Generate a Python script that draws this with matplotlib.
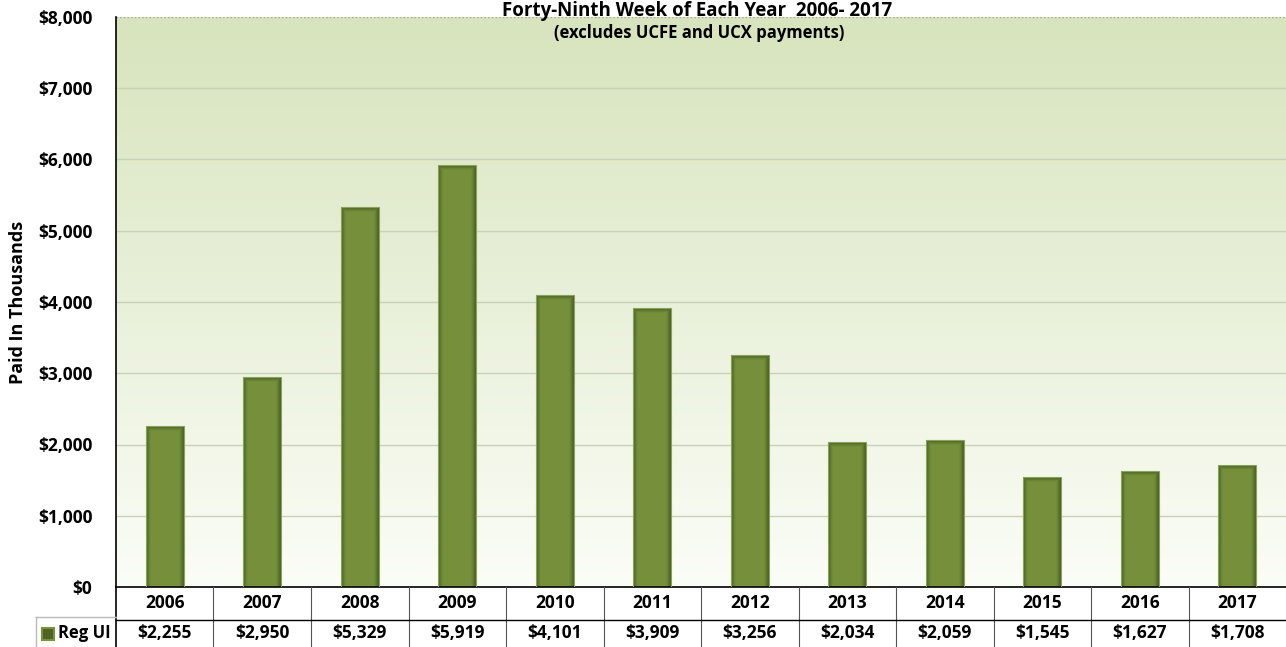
import numpy as np
import matplotlib

matplotlib.use('Agg')

import matplotlib.pyplot as plt
from matplotlib.colors import LinearSegmentedColormap
from matplotlib.patches import Rectangle
from matplotlib.lines import Line2D

years = ['2006', '2007', '2008', '2009', '2010', '2011',
         '2012', '2013', '2014', '2015', '2016', '2017']
reg_ui = [2255, 2950, 5329, 5919, 4101, 3909, 3256, 2034, 2059, 1545, 1627, 1708]
value_labels = ['$2,255', '$2,950', '$5,329', '$5,919', '$4,101', '$3,909',
                '$3,256', '$2,034', '$2,059', '$1,545', '$1,627', '$1,708']
y_ticks = [0, 1000, 2000, 3000, 4000, 5000, 6000, 7000, 8000]
y_tick_labels = ['$0', '$1,000', '$2,000', '$3,000', '$4,000',
                 '$5,000', '$6,000', '$7,000', '$8,000']

plt.rcParams['font.family'] = ['Open Sans', 'DejaVu Sans']
plt.rcParams['font.weight'] = 'bold'

W, H = 1286, 647
fig = plt.figure(figsize=(W / 100, H / 100), dpi=100)
fig.patch.set_facecolor('white')

# plot area in pixels
left, right, top, bottom = 116, 1286, 17, 587
ax = fig.add_axes([left / W, 1 - bottom / H, (right - left) / W, (bottom - top) / H])

n = len(years)
x = np.arange(n)
ax.set_xlim(-0.5, n - 0.5)
ax.set_ylim(0, 8000)

# gradient background
bg = LinearSegmentedColormap.from_list('bg', ['#fbfdf7', '#d7e4bd'])
grad = np.linspace(0, 1, 256).reshape(-1, 1)
ax.imshow(grad, cmap=bg, aspect='auto', extent=(-0.5, n - 0.5, 0, 8000),
          origin='lower', zorder=0)

for yt in y_ticks[1:]:
    ax.axhline(yt, color='#c9d1b6' if yt < 8000 else '#a0a890', lw=1,
               ls='-' if yt < 8000 else ':', zorder=1)

# bars with a soft inner shadow (insets in pixels)
px_x = n / (right - left)
px_y = 8000 / (bottom - top)
bar_w = 0.39
layers = [('#4f6228', 0), ('#566c2b', 1), ('#5f782f', 2), ('#688434', 3),
          ('#6f8c37', 4), ('#758f3b', 5)]
for col, inset in layers:
    ax.bar(x, [v - inset * px_y for v in reg_ui], width=bar_w - 2 * inset * px_x,
           color=col, zorder=2, linewidth=0)
ax.bar(x, reg_ui, width=bar_w, facecolor='none', edgecolor='#8aa35a', lw=0.8, zorder=3)

fs = 12.5
ax.set_xticks([])
ax.set_yticks(y_ticks)
ax.set_yticklabels(y_tick_labels, fontsize=fs, fontweight='bold')
ax.tick_params(axis='y', length=0, pad=17)
for s in ['top', 'right']:
    ax.spines[s].set_visible(False)
ax.spines['left'].set_color('black')
ax.spines['bottom'].set_color('black')
ax.spines['left'].set_linewidth(1.2)
ax.spines['bottom'].set_linewidth(1.2)

ax.set_ylabel('Paid In Thousands', fontsize=13, fontweight='bold')
ax.yaxis.set_label_coords(-(left - 27) / (right - left), 0.5)

# data table below the plot
row1 = 620
def fy(py):
    return 1 - py / H

def fx(px):
    return px / W

cw = (right - left) / n
for i in range(n):
    cx = left + cw * (i + 0.5)
    fig.text(fx(cx), fy(603), years[i], ha='center', va='center', fontsize=fs, fontweight='bold')
    fig.text(fx(cx), fy(633), value_labels[i], ha='center', va='center', fontsize=fs, fontweight='bold')
for i in range(1, n):
    bx = left + cw * i
    fig.add_artist(Line2D([fx(bx), fx(bx)], [fy(bottom), fy(H)], color='#555555', lw=0.8))
fig.add_artist(Line2D([fx(left), fx(right)], [fy(row1), fy(row1)], color='black', lw=1))
fig.add_artist(Line2D([fx(left), fx(left)], [fy(bottom), fy(H)], color='black', lw=1.2))
# legend cell
fig.add_artist(Line2D([fx(36), fx(left)], [fy(617), fy(617)], color='#bbbbbb', lw=1))
fig.add_artist(Line2D([fx(36), fx(36)], [fy(617), fy(H)], color='#bbbbbb', lw=1))
fig.add_artist(Rectangle((fx(42), fy(640)), 12 / W, 12 / H, facecolor='#4f6228',
                         edgecolor='#77933c', lw=1.5))
fig.text(fx(58), fy(633), 'Reg UI', ha='left', va='center', fontsize=12, fontweight='bold')

# titles (top line runs off the image)
fig.text(fx(697), fy(16), 'Forty-Ninth Week of Each Year  2006- 2017', ha='center',
         va='baseline', fontsize=13.5, fontweight='bold')
fig.text(fx(699), fy(33), '(excludes UCFE and UCX payments)', ha='center', va='center',
         fontsize=12, fontweight='bold')

fig.savefig('out.png', dpi=100)
